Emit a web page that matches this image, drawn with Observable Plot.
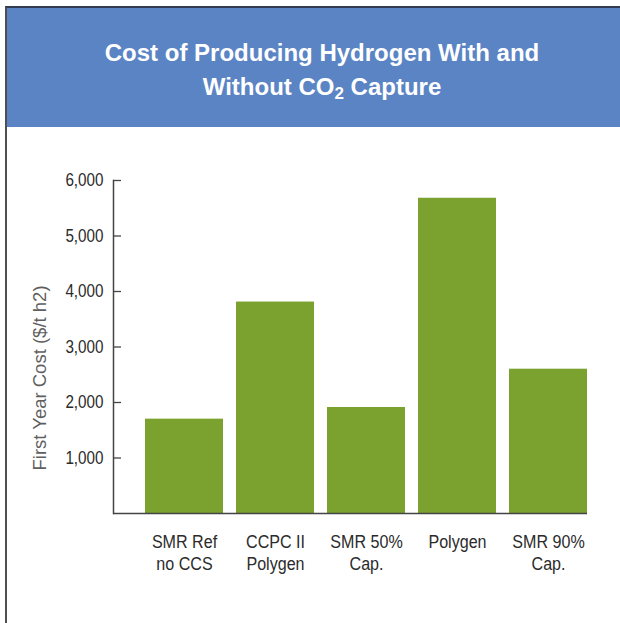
<!DOCTYPE html>
<html>
<head>
<meta charset="utf-8">
<script src="https://cdn.jsdelivr.net/npm/d3@7"></script>
<script src="https://cdn.jsdelivr.net/npm/@observablehq/plot@0.6"></script>
<style>
  html, body { margin: 0; padding: 0; background: #fff; overflow: hidden; }
  #wrap {
    position: absolute; left: 5px; top: 6px; width: 630px;
    border-left: 2px solid #4f4f4f; border-top: 2px solid #323b50;
  }
  #hdr {
    box-sizing: border-box; height: 119px; padding-top: 28px;
    background: #5b84c4; color: #fff; text-align: center;
    font-family: "Liberation Sans", Arial, sans-serif; font-weight: bold;
    font-size: 24px; line-height: 34px;
  }
  #hdr sub { font-size: 17px; line-height: 0; position: relative; top: 4px; vertical-align: baseline; }
  #chart svg { display: block; }
</style>
</head>
<body>
<div id="wrap">
  <div id="hdr">Cost of Producing Hydrogen With and<br>Without CO<sub>2</sub> Capture</div>
  <div id="chart"></div>
</div>
<script>
const categories = ["SMR Ref no CCS", "CCPC II Polygen", "SMR 50% Cap.", "Polygen", "SMR 90% Cap."];
const tickLabels = ["SMR Ref\nno CCS", "CCPC II\nPolygen", "SMR 50%\nCap.", "Polygen", "SMR 90%\nCap."];
const costs = [1700, 3810, 1910, 5680, 2600];
const yTicks = [1000, 2000, 3000, 4000, 5000, 6000];
const yTitle = "First Year Cost ($/t h2)";

const data = categories.map((c, i) => ({category: c, cost: costs[i]}));
const labelOf = new Map(categories.map((c, i) => [c, tickLabels[i]]));

const chart = Plot.plot({
  width: 630,
  height: 496,
  marginLeft: 106,
  marginRight: 50,
  marginTop: 53,
  marginBottom: 110,
  style: {fontFamily: "'Liberation Sans', Arial, sans-serif", background: "#fff"},
  x: {domain: categories, paddingInner: 0.14, paddingOuter: 0.166, align: 1, label: null},
  y: {domain: [0, 6000], label: null},
  marks: [
    Plot.barY(data, {x: "category", y: "cost", fill: "#7ba12f"}),
    Plot.ruleY([0], {stroke: "#444", strokeWidth: 1.5}),
    Plot.frame({anchor: "left", stroke: "#444", strokeWidth: 1.5}),
    Plot.axisY(yTicks, {fill: "none", stroke: "#444", strokeWidth: 1.3, tickSize: 8, dx: 8, label: null}),
    Plot.axisY(yTicks, {tickSize: 0, tickPadding: 10, fill: "#2b2b2b", fontSize: 17.5, tickFormat: d3.format(","), label: null}),
    Plot.axisX({tickSize: 0, tickPadding: 19, fill: "#2b2b2b", fontSize: 18.5, lineHeight: 1.17, tickFormat: d => labelOf.get(d), label: null}),
    Plot.text([yTitle], {frameAnchor: "left", rotate: -90, dx: -73, dy: 31, fontSize: 18.5, fill: "#5f5f5f", textAnchor: "middle", lineAnchor: "middle"})
  ]
});
// condensed look: narrow the axis tick labels horizontally around their anchor
chart.querySelectorAll("g[aria-label='x-axis tick label'] text, g[aria-label='y-axis tick label'] text").forEach(t => {
  const tr = t.getAttribute("transform") || "";
  t.setAttribute("transform", tr + " scale(0.87,1)");
});
document.getElementById("chart").appendChild(chart);
</script>
</body>
</html>
